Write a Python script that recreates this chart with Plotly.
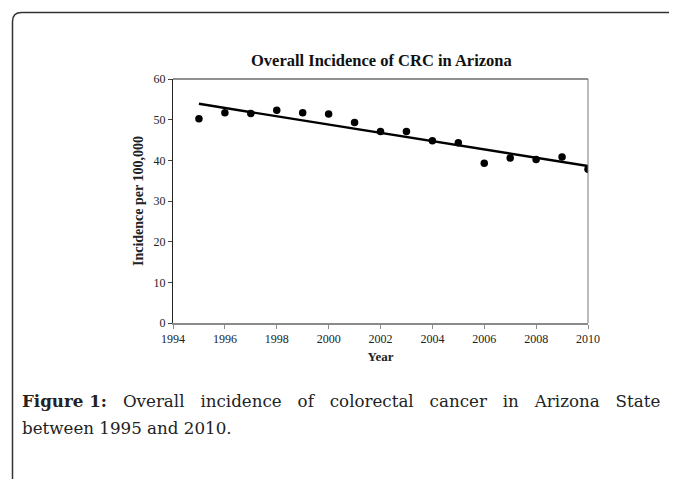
import numpy as np
import plotly.graph_objects as go

years = [1995, 1996, 1997, 1998, 1999, 2000, 2001, 2002, 2003, 2004, 2005, 2006, 2007, 2008, 2009, 2010]
incidence = [50.2, 51.7, 51.5, 52.3, 51.7, 51.4, 49.3, 47.1, 47.1, 44.8, 44.3, 39.3, 40.6, 40.2, 40.8, 37.8]
x_ticks = [1994, 1996, 1998, 2000, 2002, 2004, 2006, 2008, 2010]
y_ticks = [0, 10, 20, 30, 40, 50, 60]

title_text = "Overall Incidence of CRC in Arizona"
x_title = "Year"
y_title = "Incidence per 100,000"
caption_bold = "Figure 1:"
caption_words = ["Overall", "incidence", "of", "colorectal", "cancer", "in", "Arizona", "State"]
caption_line2 = "between 1995 and 2010."

# page has an 8px body margin; work in reference-pixel coordinates and shift
OFF = 8
W, H = 677 - OFF, 479 - OFF
L, R, T, B = 173, 588, 79, 323  # plot area in reference pixels


def px(x):
    return (x - L) / (R - L)


def py(y):
    return (B - y) / (B - T)


slope, intercept = np.polyfit(years, incidence, 1)
trend_x = [years[0], years[-1]]
trend_y = [slope * v + intercept for v in trend_x]

fig = go.Figure()
fig.add_trace(go.Scatter(x=trend_x, y=trend_y, mode="lines",
                         line=dict(color="black", width=2.4), showlegend=False))
fig.add_trace(go.Scatter(x=years, y=incidence, mode="markers",
                         marker=dict(color="black", size=7.5), showlegend=False))

serif = "Liberation Serif, Times New Roman, serif"
cap_font = "DejaVu Serif, serif"

fig.update_layout(
    width=W, height=H,
    margin=dict(l=L - OFF, r=677 - R, t=T - OFF, b=479 - B),
    paper_bgcolor="white", plot_bgcolor="white",
    font=dict(family=serif, color="#222"),
    xaxis=dict(range=[1994, 2010], tickvals=x_ticks, ticktext=[str(v) for v in x_ticks],
               showgrid=False, zeroline=False, showline=True, linecolor="#8a8a8a", linewidth=2,
               ticks="outside", ticklen=4, tickcolor="#8a8a8a",
               tickfont=dict(size=12, family=serif, color="#222"),
               title=dict(text="<b>" + x_title + "</b>", font=dict(size=13, family=serif, color="#222"),
                          standoff=6)),
    yaxis=dict(range=[0, 60], tickvals=y_ticks, ticktext=[str(v) for v in y_ticks],
               showgrid=False, zeroline=False, showline=True, linecolor="#222", linewidth=1,
               ticks="outside", ticklen=4, tickcolor="#444",
               tickfont=dict(size=12, family=serif, color="#222"),
               title=dict(text="<b>" + y_title + "</b>", font=dict(size=14, family=serif, color="#222"),
                          standoff=6)),
)

shapes = [
    dict(type="line", xref="paper", yref="paper", x0=0, x1=1, y0=1, y1=1, line=dict(color="#222", width=1.2)),
    dict(type="line", xref="paper", yref="paper", x0=1, x1=1, y0=0, y1=1, line=dict(color="#777", width=1)),
]
# rounded frame around figure
fx, fy, rr = 12.5, 12.5, 9
path = (f"M {px(fx)},{py(500)} L {px(fx)},{py(fy + rr)} "
        f"Q {px(fx)},{py(fy)} {px(fx + rr)},{py(fy)} L {px(700)},{py(fy)}")
shapes.append(dict(type="path", xref="paper", yref="paper", path=path,
                   line=dict(color="#333", width=1.5)))
fig.update_layout(shapes=shapes)

gap = "\u00a0\u00a0\u00a0"  # justified-looking word spacing
line1 = "<b>" + caption_bold + "</b>" + gap + gap.join(caption_words)

annotations = [
    dict(text="<b>" + title_text + "</b>", xref="paper", yref="paper",
         x=px(381), y=py(60), xanchor="center", yanchor="middle", showarrow=False,
         font=dict(size=16.5, family=serif, color="#111")),
    dict(text=line1, xref="paper", yref="paper", x=px(20), y=py(401),
         xanchor="left", yanchor="middle", showarrow=False,
         font=dict(size=16.7, family=cap_font, color="#222")),
    dict(text=caption_line2, xref="paper", yref="paper", x=px(20), y=py(428),
         xanchor="left", yanchor="middle", showarrow=False,
         font=dict(size=16.7, family=cap_font, color="#222")),
]
fig.update_layout(annotations=annotations)

fig.write_html("out.html")
